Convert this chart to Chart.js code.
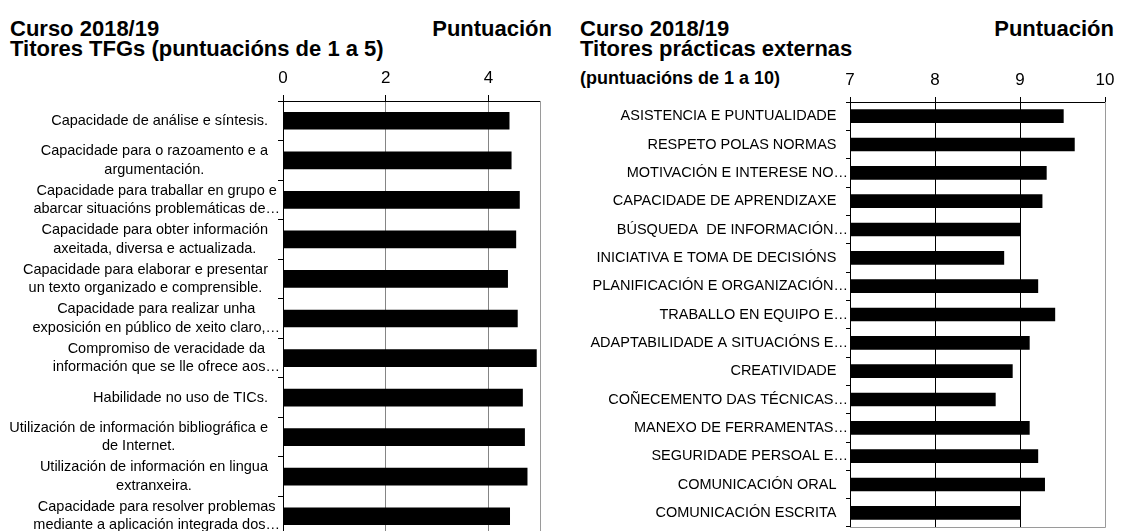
<!DOCTYPE html>
<html>
<head>
<meta charset="utf-8">
<script src="https://cdn.jsdelivr.net/npm/chart.js@4/dist/chart.umd.min.js"></script>
<style>
  html, body { margin: 0; padding: 0; background: #fff; overflow: hidden; }
  body { width: 1123px; height: 531px; position: relative; font-family: "Liberation Sans", Arial, sans-serif; color: #000; }
  canvas { position: absolute; top: 0; }
  .title { position: absolute; font-weight: bold; font-size: 22px; line-height: 20px; white-space: nowrap; }
  .small { font-size: 18px; }
</style>
</head>
<body>
<div class="title" style="left:10px; top:19px;">Curso 2018/19<br>Titores TFGs (puntuacións de 1 a 5)</div>
<div class="title" style="right:571px; top:19px;">Puntuación</div>
<div class="title" style="left:580px; top:19px;">Curso 2018/19<br>Titores prácticas externas</div>
<div class="title small" style="left:580px; top:68px;">(puntuacións de 1 a 10)</div>
<div class="title" style="right:9px; top:19px;">Puntuación</div>

<canvas id="tfgChart" width="560" height="545" style="left:0;"></canvas>
<canvas id="practChart" width="563" height="531" style="left:560px;"></canvas>

<script>
// TFG tutors, scores 1 to 5
const tfgLabels = [
  ['Capacidade de análise e síntesis.'],
  ['Capacidade para o razoamento e a', 'argumentación.'],
  ['Capacidade para traballar en grupo e', 'abarcar situacións problemáticas de…'],
  ['Capacidade para obter información', 'axeitada, diversa e actualizada.'],
  ['Capacidade para elaborar e presentar', 'un texto organizado e comprensible.'],
  ['Capacidade para realizar unha', 'exposición en público de xeito claro,…'],
  ['Compromiso de veracidade da', 'información que se lle ofrece aos…'],
  ['Habilidade no uso de TICs.'],
  ['Utilización de información bibliográfica e', 'de Internet.'],
  ['Utilización de información en lingua', 'extranxeira.'],
  ['Capacidade para resolver problemas', 'mediante a aplicación integrada dos…']
];
const tfgScores = [4.40, 4.44, 4.60, 4.53, 4.37, 4.56, 4.93, 4.66, 4.70, 4.75, 4.41];
const tfgTicks = [0, 2, 4];

// External internship tutors, scores 1 to 10
const practLabels = [
  'ASISTENCIA E PUNTUALIDADE',
  'RESPETO POLAS NORMAS',
  'MOTIVACIÓN E INTERESE NO…',
  'CAPACIDADE DE APRENDIZAXE',
  'BÚSQUEDA  DE INFORMACIÓN…',
  'INICIATIVA E TOMA DE DECISIÓNS',
  'PLANIFICACIÓN E ORGANIZACIÓN…',
  'TRABALLO EN EQUIPO E…',
  'ADAPTABILIDADE A SITUACIÓNS E…',
  'CREATIVIDADE',
  'COÑECEMENTO DAS TÉCNICAS…',
  'MANEXO DE FERRAMENTAS…',
  'SEGURIDADE PERSOAL E…',
  'COMUNICACIÓN ORAL',
  'COMUNICACIÓN ESCRITA'
];
const practScores = [9.51, 9.64, 9.31, 9.26, 9.00, 8.81, 9.21, 9.41, 9.11, 8.91, 8.71, 9.11, 9.21, 9.29, 9.00];
const practTicks = [7, 8, 9, 10];

const FONT = '"Liberation Sans", Arial, sans-serif';

// Category labels: block right-aligned next to the axis, lines centred inside the block
const blockLabels = {
  id: 'blockLabels',
  afterDraw(chart, args, opts) {
    const { ctx } = chart;
    const yScale = chart.scales.y;
    const axisX = yScale.right;
    ctx.save();
    ctx.font = `${opts.size}px ${FONT}`;
    ctx.fillStyle = '#000';
    ctx.textAlign = 'center';
    ctx.textBaseline = 'middle';
    chart.data.labels.forEach((label, i) => {
      const lines = Array.isArray(label) ? label : [label];
      const widest = Math.max(...lines.map(l => ctx.measureText(l).width));
      const cut = lines[lines.length - 1].endsWith('…');
      const right = axisX - (cut ? opts.cutGap : opts.gap);
      const cx = right - widest / 2;
      const mid = yScale.getPixelForValue(i);
      lines.forEach((line, k) => {
        ctx.fillText(line, cx, mid + (k - (lines.length - 1) / 2) * opts.lineHeight);
      });
    });
    ctx.restore();
  }
};

// Grey right and bottom edge of the plot area
const plotFrame = {
  id: 'plotFrame',
  beforeDatasetsDraw(chart, args, opts) {
    const { ctx, chartArea: a } = chart;
    ctx.save();
    ctx.strokeStyle = opts.color;
    ctx.lineWidth = 1;
    ctx.beginPath();
    ctx.moveTo(Math.round(a.right) + 0.5, a.top);
    ctx.lineTo(Math.round(a.right) + 0.5, Math.round(a.bottom) + 0.5);
    ctx.lineTo(a.left, Math.round(a.bottom) + 0.5);
    ctx.stroke();
    ctx.restore();
  }
};

function makeChart(canvasId, cfg) {
  const {
    labels, data, ticks, min, max,
    axisWidth, axisHeight, padding,
    barThickness, gridColor, tickLength, catTickLength,
    labelGap, labelCutGap, lineHeight
  } = cfg;

  const ctx = document.getElementById(canvasId);
  return new Chart(ctx, {
    type: 'bar',
    data: {
      labels: labels,
      datasets: [{
        data: data,
        backgroundColor: '#000',
        borderWidth: 0,
        barThickness: barThickness
      }]
    },
    options: {
      indexAxis: 'y',
      responsive: false,
      animation: false,
      events: [],
      layout: { padding: padding },
      plugins: {
        legend: { display: false },
        title: { display: false },
        tooltip: { enabled: false },
        blockLabels: { size: 14.5, gap: labelGap, cutGap: labelCutGap, lineHeight: lineHeight },
        plotFrame: { color: '#9a9a9a' }
      },
      scales: {
        x: {
          position: 'top',
          min: min,
          max: max,
          afterBuildTicks: s => { s.ticks = ticks.map(v => ({ value: v })); },
          afterFit: s => { s.height = axisHeight; },
          ticks: {
            font: { family: FONT, size: 17 },
            color: '#000',
            padding: 6,
            maxRotation: 0
          },
          grid: {
            color: c => (c.tick && c.tick.value === max) ? '#9a9a9a' : (c.tick && c.tick.value === min ? '#000' : gridColor),
            tickColor: '#000',
            tickLength: tickLength
          },
          border: { color: '#000' }
        },
        y: {
          offset: true,
          afterFit: s => { s.width = axisWidth; },
          ticks: { display: false },
          grid: {
            offset: true,
            drawOnChartArea: false,
            color: '#000',
            tickLength: catTickLength
          },
          border: { color: '#000' }
        }
      }
    },
    plugins: [blockLabels, plotFrame]
  });
}

makeChart('tfgChart', {
  labels: tfgLabels,
  data: tfgScores,
  ticks: tfgTicks,
  min: 0,
  max: 5,
  axisWidth: 283,
  axisHeight: 101,
  padding: { left: 0, right: 20, top: 0, bottom: 9 },
  barThickness: 17,
  gridColor: '#858585',
  tickLength: 6,
  catTickLength: 5,
  labelGap: 15,
  labelCutGap: 3,
  lineHeight: 18.4
});

makeChart('practChart', {
  labels: practLabels,
  data: practScores,
  ticks: practTicks,
  min: 7,
  max: 10,
  axisWidth: 290,
  axisHeight: 102,
  padding: { left: 0, right: 18, top: 0, bottom: 4 },
  barThickness: 13,
  gridColor: '#000',
  tickLength: 5,
  catTickLength: 4,
  labelGap: 13.5,
  labelCutGap: 2,
  lineHeight: 18.4
});
</script>
</body>
</html>
